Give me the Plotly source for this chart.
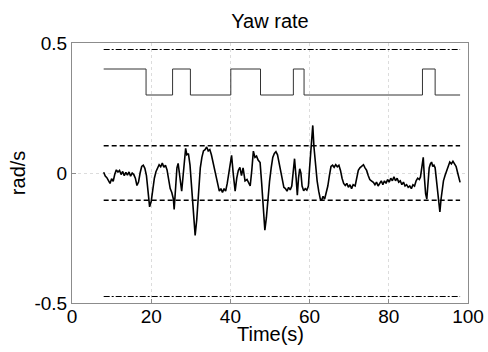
import plotly.graph_objects as go

# Square reference signal (s, rad/s)
sq_t = [8, 18.7, 18.7, 25.4, 25.4, 29.9, 29.9, 40.1, 40.1, 47.6, 47.6, 55.9, 55.9, 58.6, 58.6, 88.5, 88.5, 91.7, 91.7, 98]
sq_v = [0.4, 0.4, 0.3, 0.3, 0.4, 0.4, 0.3, 0.3, 0.4, 0.4, 0.3, 0.3, 0.4, 0.4, 0.3, 0.3, 0.4, 0.4, 0.3, 0.3]

# Measured yaw rate
yr_t = [8.0, 8.4, 8.8, 9.2, 9.6, 10.0, 10.4, 10.8, 11.2, 11.6, 12.0, 12.4, 12.8, 13.2, 13.6, 14.0, 14.4, 14.8,
        15.2, 15.6, 16.0, 16.4, 16.8, 17.2, 17.6, 18.0, 18.4, 18.8, 19.2, 19.6, 20.0, 20.4, 20.8, 21.2, 21.6,
        22.0, 22.4, 22.8, 23.2, 23.6, 24.0, 24.4, 24.8, 25.2, 25.6, 25.8, 26.1, 26.5, 26.8, 27.1, 27.4, 27.7,
        28.0, 28.4, 28.7, 29.0, 29.4, 29.8, 30.2, 30.6, 31.1, 31.5, 32.0, 32.4, 32.8, 33.2, 33.6, 34.0, 34.4,
        34.8, 35.2, 35.6, 36.0, 36.4, 36.8, 37.2, 37.6, 38.0, 38.4, 38.8, 39.2, 39.6, 40.0, 40.3, 40.7, 41.2,
        41.6, 42.0, 42.4, 42.8, 43.2, 43.7, 44.2, 44.6, 45.0, 45.4, 45.8, 46.2, 46.6, 47.0, 47.5, 47.9, 48.3,
        48.7, 49.1, 49.5, 49.9, 50.3, 50.7, 51.1, 51.5, 51.9, 52.3, 52.7, 53.1, 53.5, 53.9, 54.3, 54.7, 55.1,
        55.5, 55.9, 56.2, 56.6, 56.9, 57.2, 57.5, 57.8, 58.1, 58.5, 58.9, 59.3, 59.7, 60.0, 60.4, 60.8, 61.1,
        61.5, 61.9, 62.3, 62.7, 63.0, 63.4, 63.8, 64.2, 64.6, 65.0, 65.4, 65.8, 66.2, 66.6, 67.0, 67.4, 67.8,
        68.2, 68.6, 69.0, 69.4, 69.8, 70.2, 70.6, 71.0, 71.5, 71.9, 72.3, 72.7, 73.1, 73.6, 74.0, 74.4, 74.8,
        75.2, 75.6, 76.1, 76.5, 76.9, 77.3, 77.7, 78.1, 78.5, 78.9, 79.3, 79.7, 80.1, 80.5, 80.9, 81.3, 81.7,
        82.1, 82.5, 82.9, 83.3, 83.7, 84.1, 84.5, 84.9, 85.3, 85.7, 86.1, 86.5, 86.9, 87.3, 87.7, 88.0, 88.3,
        88.7, 89.0, 89.3, 89.6, 89.9, 90.2, 90.5, 90.8, 91.1, 91.4, 91.7, 92.0, 92.4, 92.9, 93.2, 93.5, 93.8,
        94.2, 94.6, 95.0, 95.4, 95.8, 96.2, 96.6, 97.0, 97.4, 97.7, 98.0]
yr_v = [0.003, -0.012, -0.018, -0.03, -0.04, -0.022, -0.032, -0.005, 0.012, 0.004, 0.01, -0.006, 0.006, -0.01,
        0.002, -0.008, 0.004, -0.012, 0.0, -0.006, -0.02, -0.048, -0.035, 0.0, 0.025, 0.03, 0.018, -0.01, -0.07,
        -0.13, -0.11, -0.06, -0.02, 0.005, 0.018, 0.032, 0.024, 0.038, 0.022, 0.03, 0.012, -0.02, -0.06, -0.075,
        -0.1, -0.14, -0.06, 0.02, 0.037, 0.0, -0.05, -0.07, -0.02, 0.06, 0.095, 0.07, 0.075, 0.03, -0.06, -0.16,
        -0.24, -0.18, -0.06, 0.02, 0.06, 0.085, 0.09, 0.1, 0.085, 0.09, 0.07, 0.04, 0.01, -0.02, -0.05, -0.07,
        -0.06, -0.075, -0.06, -0.07, -0.04, 0.0, 0.04, 0.068, 0.0, -0.07, -0.02, 0.01, 0.022, -0.01, 0.02, -0.03,
        -0.025, -0.04, -0.05, 0.01, 0.084, 0.06, 0.065, 0.05, 0.04, -0.04, -0.15, -0.22, -0.17, -0.08, -0.03,
        0.02, 0.06, 0.075, 0.082, 0.07, 0.04, 0.0, -0.03, -0.055, -0.06, -0.07, -0.055, -0.065, -0.05, 0.0,
        0.055, -0.02, -0.085, -0.02, 0.016, 0.0, -0.05, -0.068, -0.06, -0.066, -0.05, 0.02, 0.12, 0.183, 0.1,
        0.02, -0.03, -0.07, -0.1, -0.106, -0.09, -0.1, -0.08, -0.05, -0.01, 0.025, 0.03, 0.022, 0.032, 0.024,
        0.03, 0.01, -0.02, -0.04, -0.048, -0.04, -0.055, -0.045, -0.06, -0.045, -0.05, -0.02, 0.01, 0.02, 0.025,
        0.032, 0.02, 0.01, -0.01, -0.025, -0.03, -0.036, -0.045, -0.035, -0.05, -0.04, -0.03, -0.045, -0.03,
        -0.04, -0.025, -0.035, -0.02, -0.03, -0.015, -0.03, -0.02, -0.035, -0.03, -0.045, -0.035, -0.05, -0.045,
        -0.055, -0.05, -0.06, -0.045, -0.05, -0.03, -0.02, -0.025, -0.015, 0.02, 0.06, -0.02, -0.08, -0.1, -0.03,
        0.02, 0.035, 0.042, 0.025, 0.03, 0.02, -0.02, -0.09, -0.15, -0.1, -0.05, -0.03, -0.01, 0.01, 0.03, 0.042,
        0.035, 0.045, 0.035, 0.025, 0.0, -0.02, -0.036]

# Limit lines
lim_t = [8, 98]
outer_lim = 0.475
inner_lim = 0.105

x_ticks = [0, 20, 40, 60, 80, 100]
y_ticks = [-0.5, 0, 0.5]
y_ticklabels = ["-0.5", "0", "0.5"]

fig = go.Figure()
for v in (outer_lim, -outer_lim):
    fig.add_trace(go.Scatter(x=lim_t, y=[v, v], mode="lines",
                             line=dict(color="black", width=1.2, dash="6px,2px,2px,2px")))
for v in (inner_lim, -inner_lim):
    fig.add_trace(go.Scatter(x=lim_t, y=[v, v], mode="lines",
                             line=dict(color="black", width=1.4, dash="5px,3px")))
fig.add_trace(go.Scatter(x=sq_t, y=sq_v, mode="lines", line=dict(color="#333333", width=1)))
fig.add_trace(go.Scatter(x=yr_t, y=yr_v, mode="lines", line=dict(color="black", width=1.6)))

fig.update_layout(
    width=488, height=352,
    margin=dict(l=72, r=20, t=43, b=49, autoexpand=False),
    paper_bgcolor="white", plot_bgcolor="white",
    showlegend=False,
    font=dict(family="Liberation Sans, Arial, sans-serif", color="black", size=19),
    title=dict(text="Yaw rate", x=0.5, xref="paper", xanchor="center",
               y=1 - 21 / 352, yref="container", yanchor="middle",
               font=dict(size=20)),
    annotations=[
        dict(text="Time(s)", xref="paper", yref="paper", x=0.5, y=-0.118,
             xanchor="center", yanchor="middle", showarrow=False, font=dict(size=20)),
        dict(text="rad/s", xref="paper", yref="paper", x=-0.136, y=0.5, textangle=-90,
             xanchor="center", yanchor="middle", showarrow=False, font=dict(size=20)),
    ],
)
fig.update_xaxes(range=[0, 100], tickvals=x_ticks, showline=True, mirror=True, automargin=False,
                 linecolor="#8c8c8c", linewidth=1, ticks="inside", ticklen=4, ticklabelstandoff=-4,
                 tickcolor="#8c8c8c", showgrid=True, gridcolor="#dcdcdc", griddash="dot",
                 gridwidth=1, zeroline=False)
fig.update_yaxes(range=[-0.5, 0.5], tickvals=y_ticks, ticktext=y_ticklabels, showline=True,
                 mirror=True, automargin=False, linecolor="#8c8c8c", linewidth=1, ticks="inside",
                 ticklen=4, tickcolor="#8c8c8c", showgrid=True, gridcolor="#dcdcdc", griddash="dot",
                 gridwidth=1, zeroline=False)

fig.write_html("out.html")
